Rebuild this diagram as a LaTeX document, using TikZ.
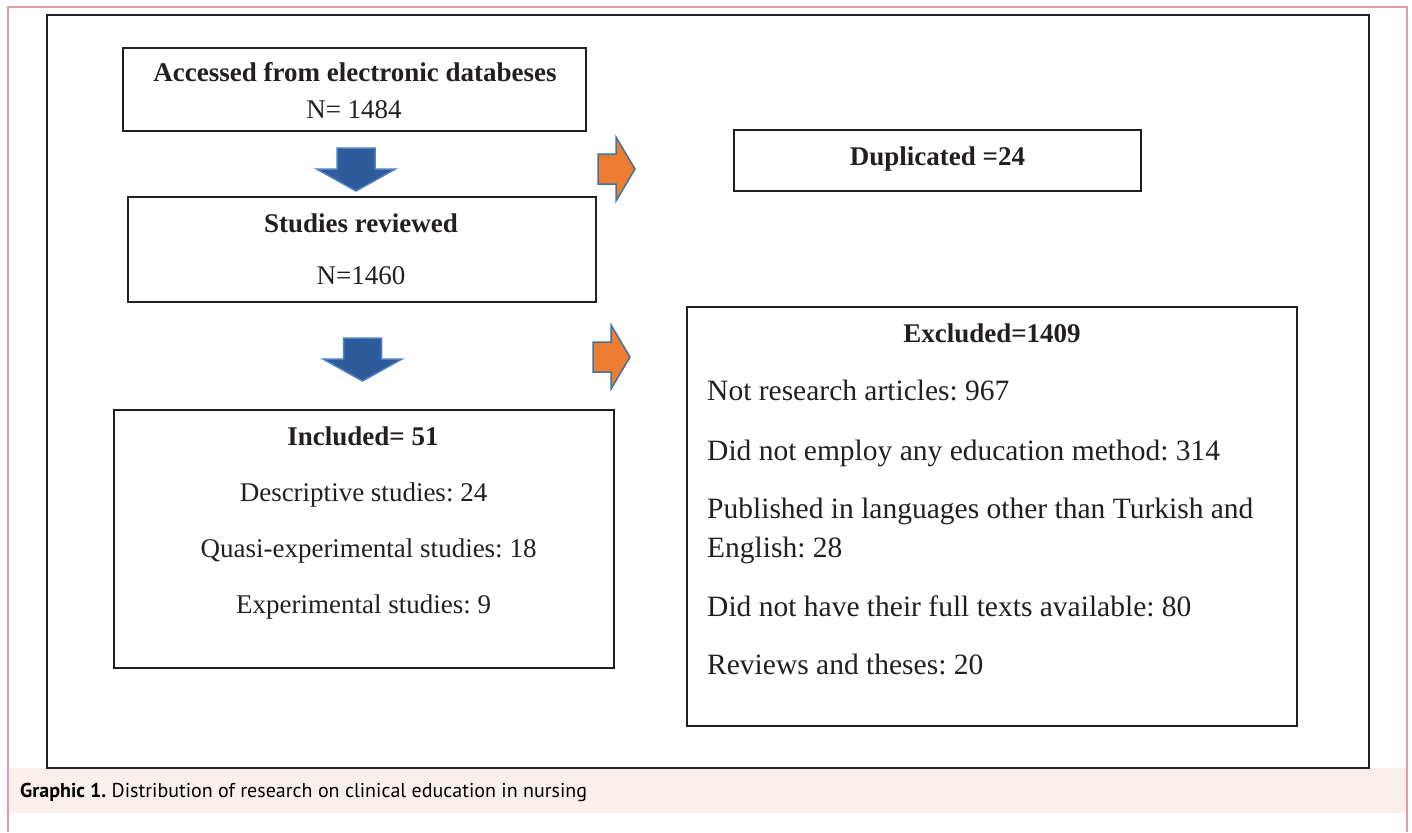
\documentclass[tikz,border=0pt]{standalone}
\usepackage{fontspec}
\setmainfont{Liberation Serif}
\newfontfamily\fcCapFont{PT Sans}
\usepackage{xcolor}
\frenchspacing
\definecolor{fcInk}{HTML}{231F20}
\definecolor{fcPink}{HTML}{E59AA6}
\definecolor{fcBand}{HTML}{F9F0ED}
\definecolor{fcBlue}{HTML}{2E5B9B}
\definecolor{fcBlueEdge}{HTML}{4F81BD}
\definecolor{fcOrange}{HTML}{ED7D31}
\definecolor{fcOrangeEdge}{HTML}{41719C}
\tikzset{
  fcBox/.style={draw=fcInk, line width=2pt, inner sep=0pt},
  fcHead/.style={anchor=base, inner sep=0pt, text=fcInk, font=\fontsize{27}{31}\selectfont\bfseries},
  fcLine/.style={anchor=base, inner sep=0pt, text=fcInk, font=\fontsize{29.5}{34}\selectfont},
  fcSmall/.style={anchor=base, inner sep=0pt, text=fcInk, font=\fontsize{27}{31}\selectfont},
  fcDown/.style={fill=fcBlue, draw=fcBlueEdge, line width=1.5pt, line join=miter},
  fcRight/.style={fill=fcOrange, draw=fcOrangeEdge, line width=1.5pt, line join=miter}
}
\newcommand{\fcDownArrow}[2]{\draw[fcDown] (#1-19,#2) -- (#1+19,#2) -- (#1+19,#2+21) -- (#1+39.5,#2+21) -- (#1,#2+43) -- (#1-39.5,#2+21) -- (#1-19,#2+21) -- cycle;}
\newcommand{\fcRightArrow}[2]{\draw[fcRight] (#1,#2-15) -- (#1+18,#2-15) -- (#1+18,#2-32) -- (#1+37,#2) -- (#1+18,#2+32) -- (#1+18,#2+15) -- (#1,#2+15) -- cycle;}
\begin{document}
\begin{tikzpicture}[x=1pt,y=-1pt]
\useasboundingbox (0,0) rectangle (1412,832);
\fill[fcBand] (9,768) rectangle (1406,813);
\draw[fcPink, line width=1.2pt] (8,832) -- (8,7) -- (1407,7) -- (1407,832);
\draw[fcInk, line width=2pt] (47,15) rectangle (1369,768);
\node[fcBox, minimum width=463, minimum height=83] (accessed) at (354.5,89.5) {};
\node[fcBox, minimum width=407, minimum height=61] (duplicated) at (937.5,160.5) {};
\node[fcBox, minimum width=468, minimum height=105] (reviewed) at (362,249.5) {};
\node[fcBox, minimum width=610, minimum height=419] (excluded) at (992,516.5) {};
\node[fcBox, minimum width=500, minimum height=258] (included) at (364,539) {};
\fcDownArrow{356}{148}
\fcDownArrow{362.5}{338}
\fcRightArrow{598}{169}
\fcRightArrow{593}{357}
\node[fcHead] (accT) at (355,82) {Accessed from electronic databeses};
\node[fcSmall] (accN) at (354,118) {N= 1484};
\node[fcHead] (dupT) at (937.5,165) {Duplicated =24};
\node[fcHead] (revT) at (361,232) {Studies reviewed};
\node[fcSmall] (revN) at (361,284) {N=1460};
\node[fcHead] (excT) at (992,342) {Excluded=1409};
\node[fcLine, anchor=base west] (exc1) at (707,400) {Not research articles: 967};
\node[fcLine, anchor=base west] (exc2) at (707,460) {Did not employ any education method: 314};
\node[fcLine, anchor=base west] (exc3) at (707,518) {Published in languages other than Turkish and};
\node[fcLine, anchor=base west] (exc4) at (707,557) {English: 28};
\node[fcLine, anchor=base west] (exc5) at (707,616) {Did not have their full texts available: 80};
\node[fcLine, anchor=base west] (exc6) at (707,674) {Reviews and theses: 20};
\node[fcHead] (incT) at (363,445) {Included= 51};
\node[fcSmall] (inc1) at (363.5,501) {Descriptive studies: 24};
\node[fcSmall] (inc2) at (368.5,557) {Quasi-experimental studies: 18};
\node[fcSmall] (inc3) at (363.5,613) {Experimental studies: 9};
\node[anchor=base west, inner sep=0pt, font=\fcCapFont\fontsize{20}{24}\selectfont] (caption) at (20,797) {\textbf{Graphic 1.} Distribution of research on clinical education in nursing};
\end{tikzpicture}
\end{document}
